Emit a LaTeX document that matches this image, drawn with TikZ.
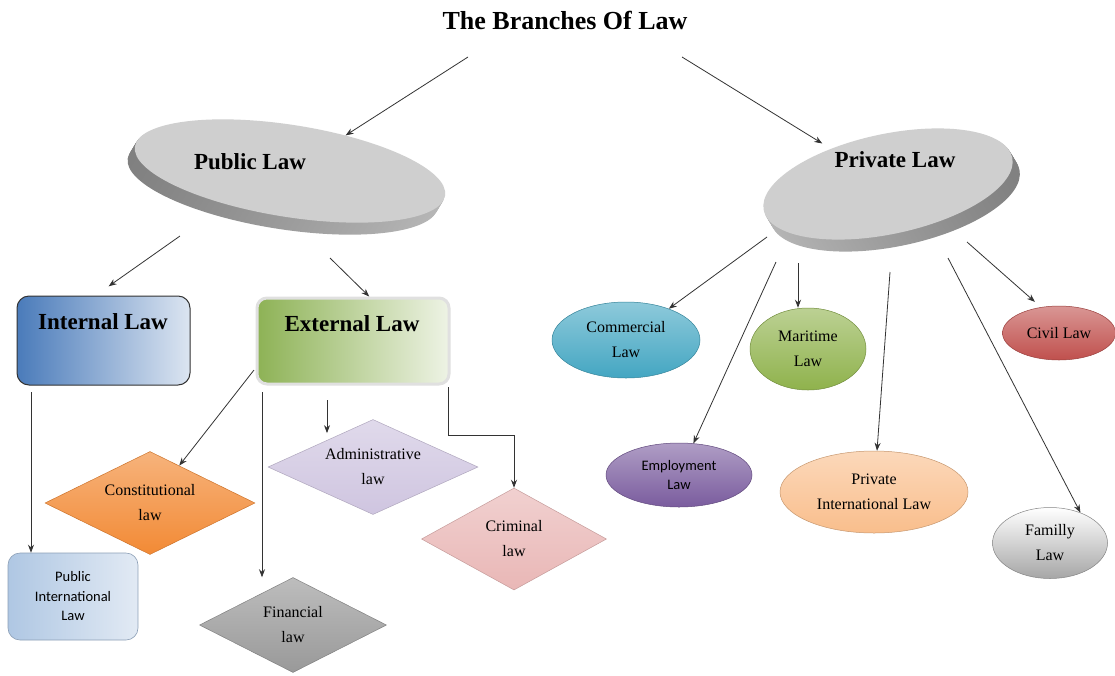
\documentclass[tikz,border=0pt]{standalone}
\usepackage{fontspec}
\setmainfont{Liberation Serif}
\newfontfamily\calfont{Carlito}
\usetikzlibrary{shapes.geometric,arrows.meta}

\definecolor{intblue}{HTML}{4A7BBA}
\definecolor{intpale}{HTML}{DCE5F1}
\definecolor{extgreen}{HTML}{8DB255}
\definecolor{extpale}{HTML}{EEF3E5}
\definecolor{pilblue}{HTML}{AFC7E3}
\definecolor{pilpale}{HTML}{E2EAF4}
\definecolor{conorange}{HTML}{F28A35}
\definecolor{admlilac}{HTML}{CFC5E0}
\definecolor{crmpink}{HTML}{E9B7B6}
\definecolor{fingray}{HTML}{999999}
\definecolor{comteal}{HTML}{43A6C2}
\definecolor{margreen}{HTML}{8FB24C}
\definecolor{empviolet}{HTML}{7A5C9E}
\definecolor{pripeach}{HTML}{F9BE8C}
\definecolor{civred}{HTML}{C0504D}
\definecolor{famgray}{HTML}{A6A6A6}

\tikzset{
  edge/.style={-{Stealth[length=8pt,width=6pt]}, draw=black!80, line width=0.8pt},
  topface/.style={ellipse, inner sep=0pt, fill=black!19},
  sideface/.style={ellipse, inner sep=0pt, left color=black!50, right color=black!28},
  bigtext/.style={font=\fontsize{23}{26}\selectfont\bfseries},
  lawtext/.style={font=\fontsize{16}{25}\selectfont, align=center},
  sanstext/.style={font=\calfont\fontsize{14.5}{19.5}\selectfont, align=center},
  oval/.style={ellipse, inner sep=0pt, lawtext, top color=#1!60!white, bottom color=#1, draw=#1!80!black, line width=0.5pt},
  rhomb/.style={diamond, aspect=2, inner sep=0pt, lawtext, top color=#1!65!white, bottom color=#1, draw=#1!85!black, line width=0.5pt}
}

\begin{document}
\begin{tikzpicture}[x=1pt,y=-1pt]
  \fill[white] (0,0) rectangle (1115,675);
  \useasboundingbox (0,0) rectangle (1115,675);

  \node[font=\fontsize{26}{30}\selectfont\bfseries] (title) at (565,20) {The Branches Of Law};

  % public law disk
  \foreach \d in {12,11,...,1}
    \node[sideface, rotate=-9, minimum width=314, minimum height=92] at (290-0.6*\d,171+\d) {};
  \node[topface, rotate=-9, minimum width=314, minimum height=92] (pub) at (290,171) {};
  \node[bigtext] (publbl) at (250,162) {Public Law};

  % private law disk
  \foreach \d in {12,11,...,1}
    \node[sideface, left color=black!28, right color=black!50, rotate=12, minimum width=254, minimum height=100] at (888+0.6*\d,184+\d) {};
  \node[topface, rotate=12, minimum width=254, minimum height=100] (prv) at (888,184) {};
  \node[bigtext] (prvlbl) at (895,160) {Private Law};

  \node[draw=black!80, line width=1pt, rounded corners=12pt, left color=intblue, right color=intpale, minimum width=173, minimum height=89] (int) at (103.5,340.5) {};
  \node[bigtext] (intlbl) at (103,322) {Internal Law};
  \node[draw=black!12, line width=3pt, rounded corners=10pt, left color=extgreen, right color=extpale, minimum width=192, minimum height=86] (ext) at (353,341) {};
  \node[bigtext] (extlbl) at (352,324) {External Law};

  \node[draw=pilblue!80!black, line width=0.6pt, rounded corners=12pt, left color=pilblue, right color=pilpale, minimum width=130, minimum height=87, sanstext] (pil) at (73,596.5) {Public\\International\\Law};

  \node[rhomb=conorange, minimum width=210, minimum height=103] (con) at (150,503) {Constitutional\\law};
  \node[rhomb=admlilac, minimum width=210, minimum height=95] (adm) at (373,467) {Administrative\\law};
  \node[rhomb=crmpink, minimum width=185, minimum height=102] (crm) at (514,539) {Criminal\\law};
  \node[rhomb=fingray, minimum width=187, minimum height=95] (fin) at (293,625) {Financial\\law};

  \node[oval=comteal, minimum width=148, minimum height=76] (com) at (626,340) {Commercial\\Law};
  \node[oval=margreen, minimum width=116, minimum height=82] (mar) at (808,349) {Maritime\\Law};
  \node[oval=civred, minimum width=113, minimum height=54] (civ) at (1059,333) {Civil Law};
  \node[oval=empviolet, sanstext, minimum width=146, minimum height=64] (emp) at (679,475) {Employment\\Law};
  \node[oval=pripeach, minimum width=188, minimum height=82] (pri) at (874,492) {Private\\International Law};
  \node[oval=famgray, top color=white, minimum width=115, minimum height=71] (fam) at (1050,543) {Familly\\Law};

  % free ends of the connectors
  \coordinate (t1) at (468,57);
  \coordinate (t2) at (682,57);
  \coordinate (p1) at (180,236);
  \coordinate (p2) at (330,258);
  \coordinate (i1) at (31,392);
  \coordinate (e1) at (254,370);
  \coordinate (e2) at (262,392);
  \coordinate (e3) at (327,400);
  \coordinate (e4) at (448,387);
  \coordinate (cr1) at (514,435);
  \coordinate (r1) at (767,237);
  \coordinate (r2) at (776,262);
  \coordinate (r3) at (798,263);
  \coordinate (r4) at (890,272);
  \coordinate (r5) at (948,258);
  \coordinate (r6) at (967,242);

  \foreach \u/\v in {t1/pub, p2/ext.70, e1/con, r1/com, r2/emp, r4/pri, r5/fam.45}
    \draw[edge] (\u) -- (\v);
  \foreach \u/\v in {i1/pil, e2/fin, r3/mar}
    \draw[edge] (\u) -- (\u |- \v.north);
  \draw[edge, shorten >=10pt] (t2) -- (prv);
  \draw[edge, shorten >=16pt] (p1) -- (int.100);
  \draw[edge, shorten >=8pt] (r6) -- (civ.125);
  \draw[edge, shorten >=10pt] (e3) -- (e3 |- adm.north west);
  \draw[edge] (e4) |- (cr1) -- (crm.north);
\end{tikzpicture}
\end{document}
